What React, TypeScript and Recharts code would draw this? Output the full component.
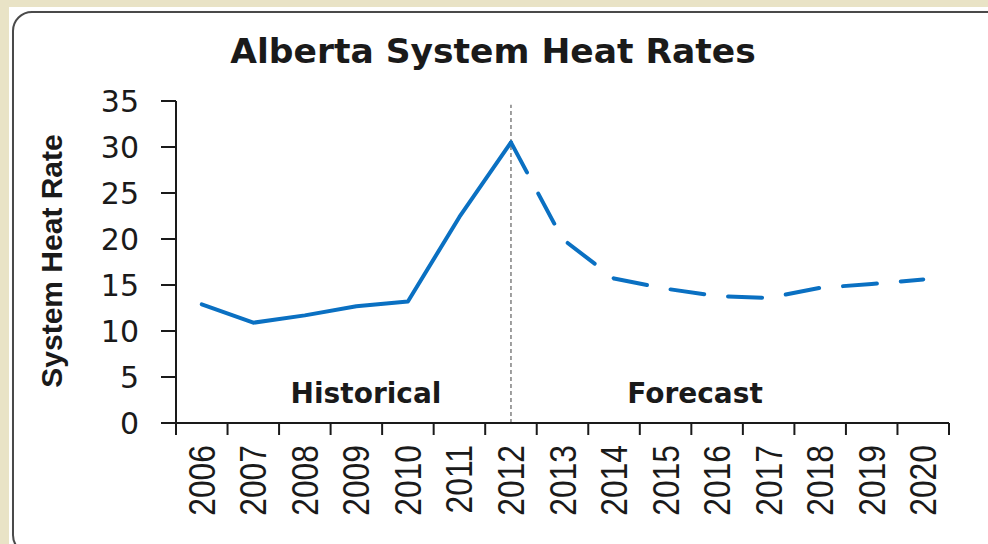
import React from 'react';
import { LineChart, Line, XAxis, YAxis, ReferenceLine } from 'recharts';

const years = ['2006', '2007', '2008', '2009', '2010', '2011', '2012', '2013', '2014', '2015', '2016', '2017', '2018', '2019', '2020'];
const historical = [12.9, 10.9, 11.7, 12.7, 13.2, 22.4, 30.5, null, null, null, null, null, null, null, null];
const forecast = [null, null, null, null, null, null, 30.5, 20.0, 15.7, 14.6, 13.8, 13.6, 14.7, 15.1, 15.6];
const yTicks = [0, 5, 10, 15, 20, 25, 30, 35];

const data = years.map((year, i) => ({ year, historical: historical[i], forecast: forecast[i] }));

const BLUE = '#0a70c2';
const INK = '#1a1a1a';

// label at the band centre, tick marks on the band edges (Excel style)
const YearTick = (props: any) => {
  const { x, y, payload, index, width, visibleTicksCount } = props;
  const half = width / visibleTicksCount / 2;
  const last = index === visibleTicksCount - 1;
  return (
    <g>
      <line x1={x - half} y1={y} x2={x - half} y2={y + 12} stroke={INK} strokeWidth={2} />
      {last && <line x1={x + half} y1={y} x2={x + half} y2={y + 12} stroke={INK} strokeWidth={2} />}
      <text
        transform={`translate(${x + 13},${y + 22}) rotate(-90) scale(0.86,1)`}
        textAnchor="end"
        fontFamily="'Liberation Sans', Arial, sans-serif"
        fontSize={37}
        fill={INK}
      >
        {payload.value}
      </text>
    </g>
  );
};

const App: React.FC = () => {
  return (
    <div style={{ position: 'fixed', left: 0, top: 0, width: 988, height: 544, background: '#e9e3c6', overflow: 'hidden' }}>
      <div style={{ position: 'absolute', left: 9, top: 7, width: 990, height: 550, background: '#ffffff' }} />
      <div
        style={{
          position: 'absolute',
          left: 12,
          top: 11,
          width: 1000,
          height: 540,
          border: '2.5px solid #4a4a4a',
          borderRadius: 20,
          boxShadow: '1px 1px 2px rgba(0,0,0,0.25)',
        }}
      />
      <div style={{ position: 'absolute', left: 0, top: 0 }}>
        <LineChart width={988} height={544} data={data} margin={{ top: 101, right: 39, bottom: 0, left: 0 }}>
          <XAxis
            dataKey="year"
            scale="band"
            interval={0}
            height={121}
            axisLine={{ stroke: INK, strokeWidth: 2 }}
            tickLine={false}
            tickSize={0}
            tickMargin={0}
            tick={<YearTick />}
          />
          <YAxis
            width={176}
            domain={[0, 35]}
            ticks={yTicks}
            interval={0}
            tickSize={15}
            tickMargin={22}
            axisLine={{ stroke: INK, strokeWidth: 2 }}
            tickLine={{ stroke: INK, strokeWidth: 2 }}
            tick={{ fill: INK, fontSize: 30, fontFamily: "'DejaVu Sans', sans-serif" }}
          />
          <ReferenceLine
            segment={[{ x: '2012', y: 0 }, { x: '2012', y: 34.6 }]}
            stroke="#808080"
            strokeWidth={1.5}
            strokeDasharray="4 3"
          />
          <Line
            type="linear"
            dataKey="historical"
            stroke={BLUE}
            strokeWidth={4}
            strokeLinejoin="round"
            strokeLinecap="round"
            dot={false}
            activeDot={false}
            isAnimationActive={false}
          />
          <Line
            type="linear"
            dataKey="forecast"
            stroke={BLUE}
            strokeWidth={4}
            strokeDasharray="34 24"
            strokeLinejoin="round"
            strokeLinecap="round"
            dot={false}
            activeDot={false}
            isAnimationActive={false}
          />
          <text x={493} y={63} textAnchor="middle" fontFamily="'DejaVu Sans', sans-serif" fontWeight="bold" fontSize={34.5} fill={INK}>
            Alberta System Heat Rates
          </text>
          <text
            transform="translate(62,261) rotate(-90)"
            textAnchor="middle"
            fontFamily="'Liberation Sans', Arial, sans-serif"
            fontWeight="bold"
            fontSize={30}
            fill={INK}
          >
            System Heat Rate
          </text>
          <text x={366} y={403} textAnchor="middle" fontFamily="'DejaVu Sans', sans-serif" fontWeight="bold" fontSize={28} fill={INK}>
            Historical
          </text>
          <text x={695} y={403} textAnchor="middle" fontFamily="'DejaVu Sans', sans-serif" fontWeight="bold" fontSize={28} fill={INK}>
            Forecast
          </text>
        </LineChart>
      </div>
    </div>
  );
};

export default App;
